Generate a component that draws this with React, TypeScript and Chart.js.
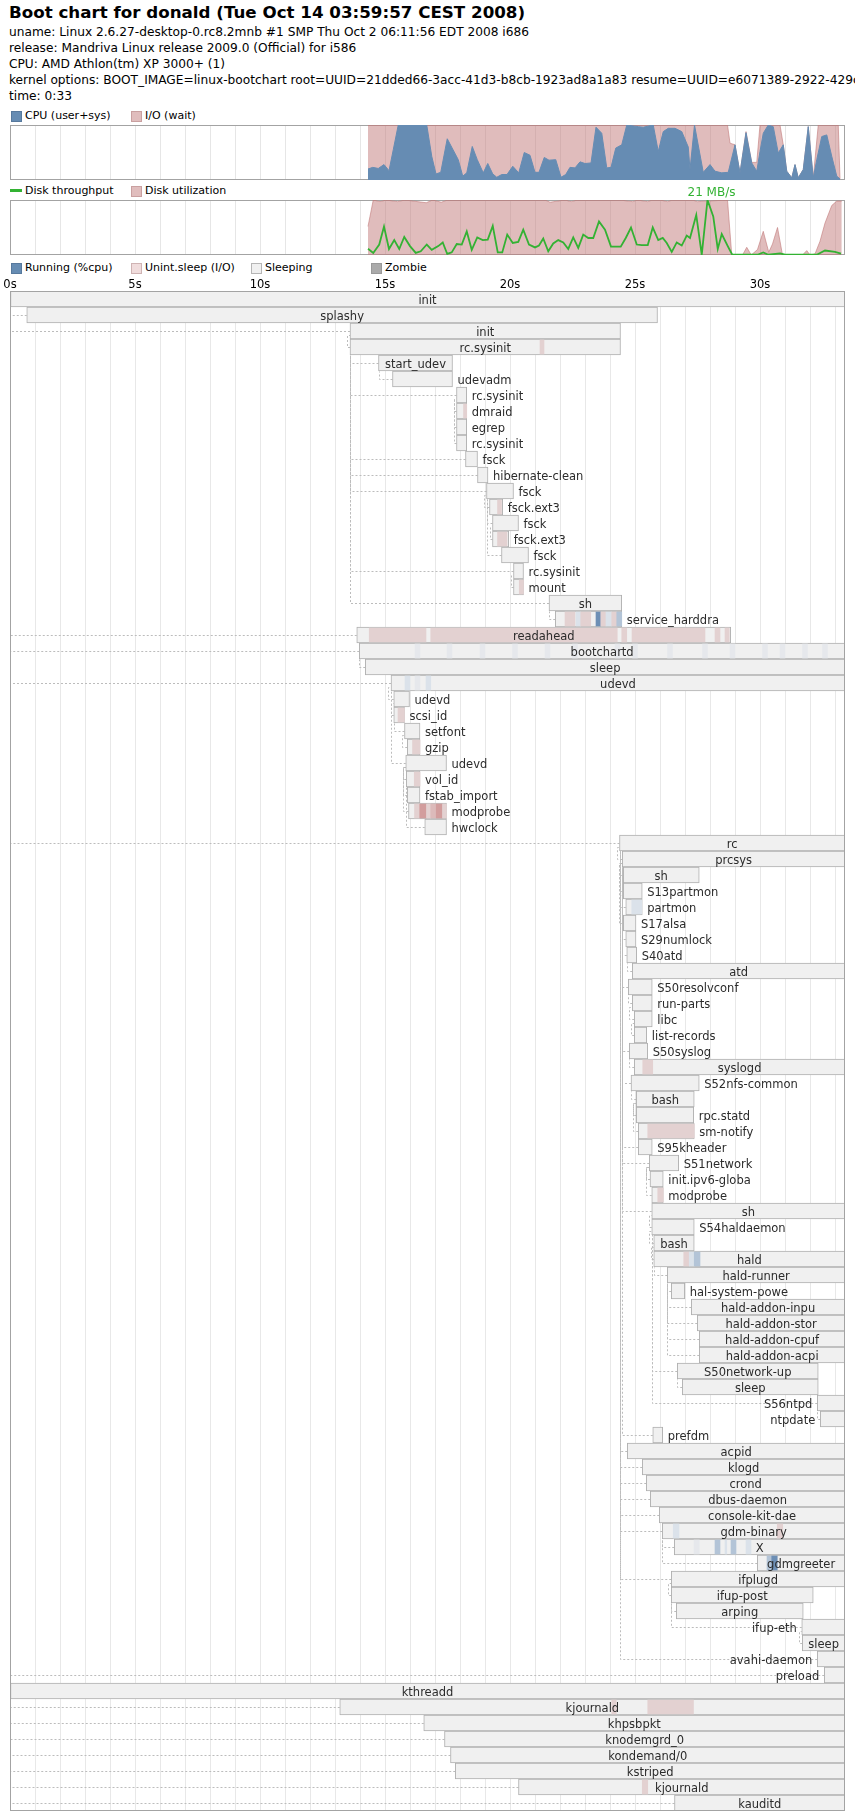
import React, { useEffect, useRef } from 'react';
import { Chart, registerables } from 'chart.js';

Chart.register(...registerables);

const FONT = '"DejaVu Sans", "Liberation Sans", sans-serif';

// ---------------- header ----------------
const chartTitle = 'Boot chart for donald (Tue Oct 14 03:59:57 CEST 2008)';
const headerLines = [
  'uname: Linux 2.6.27-desktop-0.rc8.2mnb #1 SMP Thu Oct 2 06:11:56 EDT 2008 i686',
  'release: Mandriva Linux release 2009.0 (Official) for i586',
  'CPU: AMD Athlon(tm) XP 3000+ (1)',
  'kernel options: BOOT_IMAGE=linux-bootchart root=UUID=21dded66-3acc-41d3-b8cb-1923ad8a1a83 resume=UUID=e6071389-2922-429c',
  'time: 0:33',
];

// ---------------- time axis (seconds) ----------------
const timeEnd = 33.4;
const timeTicks = [0, 5, 10, 15, 20, 25, 30];

// ---------------- CPU (%) ----------------
const cpuTimes = [14.32, 14.51, 14.73, 14.96, 15.16, 15.33, 15.53, 16.67, 16.87, 17.04, 17.23, 17.49, 17.93, 18.11, 18.27, 18.49, 18.69, 18.93, 19.11, 19.31, 19.47, 19.67, 19.88, 20.11, 20.35, 20.57, 20.8, 21.0, 21.16, 21.37, 21.56, 21.83, 22.04, 22.23, 22.4, 22.6, 22.8, 23.0, 23.24, 23.44, 23.67, 23.87, 24.04, 24.23, 24.47, 24.67, 25.13, 25.33, 25.73, 25.93, 26.13, 26.33, 26.6, 26.87, 27.13, 27.2, 27.38, 27.73, 28.0, 28.2, 28.47, 28.73, 29.0, 29.2, 29.44, 29.67, 29.87, 30.0, 30.13, 30.33, 30.53, 30.73, 30.93, 31.07, 31.27, 31.4, 31.53, 31.73, 31.93, 32.13, 32.27, 32.47, 32.67, 32.87, 33.07, 33.2];
const cpuBusy = [20, 23, 21, 28, 17, 55, 100, 100, 43, 11, 14, 75, 37, 7, 13, 61, 37, 13, 30, 11, 5, 10, 10, 25, 13, 50, 45, 14, 14, 41, 36, 37, 5, 10, 23, 22, 33, 30, 31, 96, 85, 22, 23, 58, 64, 100, 97, 96, 100, 52, 88, 94, 94, 88, 60, 19, 100, 14, 28, 16, 13, 14, 64, 13, 86, 31, 16, 52, 85, 100, 97, 49, 64, 16, 4, 28, 4, 19, 97, 4, 37, 79, 82, 43, 7, 2];
// CPU + I/O wait (upper edge of the I/O area)
const ioTimes = [14.32, 28.7, 28.8, 29.0, 29.2, 29.44, 29.67, 29.87, 30.0, 30.8, 30.93, 31.07, 31.27, 31.4, 31.53, 31.73, 31.93, 32.13, 32.33, 33.13, 33.2];
const cpuPlusIoWait = [100, 100, 67, 64, 13, 88, 32, 32, 100, 100, 64, 16, 4, 28, 4, 19, 97, 4, 100, 100, 2];

// ---------------- Disk ----------------
const utilTimes = [14.32, 14.53, 14.8, 15.05, 15.5, 15.8, 16.65, 16.9, 17.25, 17.5, 21.4, 21.6, 22.2, 22.45, 22.7, 24.4, 24.9, 25.1, 25.5, 25.7, 26.0, 26.3, 26.5, 27.3, 27.5, 28.7, 28.87, 29.3, 29.47, 29.65, 29.9, 30.13, 30.35, 30.5, 30.7, 30.9, 31.7, 31.87, 32.0, 32.2, 32.4, 32.6, 32.87, 33.07, 33.27];
const diskUtil = [52, 100, 97, 100, 97, 100, 95, 100, 96, 100, 100, 96, 100, 97, 100, 100, 97, 100, 97, 100, 100, 97, 100, 100, 97, 100, 0, 0, 14, 0, 10, 43, 5, 20, 50, 0, 0, 8, 0, 2, 25, 58, 90, 98, 98];
const tputTimes = [14.32, 14.53, 14.77, 14.96, 15.16, 15.37, 15.57, 15.77, 16.0, 16.23, 16.43, 16.67, 16.87, 17.13, 17.31, 17.49, 17.67, 17.87, 18.07, 18.27, 18.47, 18.69, 18.91, 19.11, 19.31, 19.51, 19.69, 19.89, 20.11, 20.33, 20.53, 20.76, 21.0, 21.16, 21.33, 21.53, 21.73, 21.93, 22.13, 22.33, 22.53, 22.73, 22.93, 23.13, 23.33, 23.56, 23.8, 24.04, 24.23, 24.43, 24.63, 24.84, 25.07, 25.27, 25.51, 25.71, 25.93, 26.11, 26.27, 26.47, 26.67, 26.87, 27.07, 27.2, 27.45, 27.67, 27.9, 28.13, 28.31, 28.47, 28.71, 28.89, 29.5, 29.9, 30.13, 30.33, 30.8, 31.0, 32.27, 32.6, 33.0, 33.24];
const diskTput = [2.4, 0.8, 4.0, 10.9, 2.3, 5.7, 2.3, 6.9, 3.4, 0.8, 1.4, 4.0, 2.0, 3.4, 4.8, 0.4, 1.0, 4.2, 4.0, 9.0, 2.0, 6.7, 5.7, 5.9, 11.1, 1.0, 1.0, 7.8, 4.6, 5.0, 9.7, 4.0, 2.9, 3.6, 6.3, 1.4, 4.4, 5.7, 4.8, 2.3, 6.7, 2.7, 7.8, 6.5, 6.5, 12.8, 9.7, 3.2, 3.2, 3.2, 6.5, 10.5, 4.0, 3.8, 3.8, 10.5, 5.7, 6.5, 4.6, 1.2, 4.8, 3.6, 7.4, 6.5, 15.3, 0.1, 21.0, 14.7, 2.3, 8.0, 3.4, 0.1, 0.1, 0.1, 1.0, 0.1, 0.6, 0.1, 0.1, 1.7, 1.2, 0.5];

// ---------------- Processes ----------------
const procNames = ['init', 'splashy', 'init', 'rc.sysinit', 'start_udev', 'udevadm', 'rc.sysinit', 'dmraid', 'egrep', 'rc.sysinit', 'fsck', 'hibernate-clean', 'fsck', 'fsck.ext3', 'fsck', 'fsck.ext3', 'fsck', 'rc.sysinit', 'mount', 'sh', 'service_harddra', 'readahead', 'bootchartd', 'sleep', 'udevd', 'udevd', 'scsi_id', 'setfont', 'gzip', 'udevd', 'vol_id', 'fstab_import', 'modprobe', 'hwclock', 'rc', 'prcsys', 'sh', 'S13partmon', 'partmon', 'S17alsa', 'S29numlock', 'S40atd', 'atd', 'S50resolvconf', 'run-parts', 'libc', 'list-records', 'S50syslog', 'syslogd', 'S52nfs-common', 'bash', 'rpc.statd', 'sm-notify', 'S95kheader', 'S51network', 'init.ipv6-globa', 'modprobe', 'sh', 'S54haldaemon', 'bash', 'hald', 'hald-runner', 'hal-system-powe', 'hald-addon-inpu', 'hald-addon-stor', 'hald-addon-cpuf', 'hald-addon-acpi', 'S50network-up', 'sleep', 'S56ntpd', 'ntpdate', 'prefdm', 'acpid', 'klogd', 'crond', 'dbus-daemon', 'console-kit-dae', 'gdm-binary', 'X', 'gdmgreeter', 'ifplugd', 'ifup-post', 'arping', 'ifup-eth', 'sleep', 'avahi-daemon', 'preload', 'kthreadd', 'kjournald', 'khpsbpkt', 'knodemgrd_0', 'kondemand/0', 'kstriped', 'kjournald', 'kauditd'];
const procStart = [0, 0.67, 13.6, 13.6, 14.74, 15.3, 17.86, 17.86, 17.86, 17.86,
  18.22, 18.7, 19.06, 19.18, 19.3, 19.3, 19.66, 20.14, 20.14, 21.56,
  21.81, 13.87, 13.97, 14.21, 15.24, 15.35, 15.35, 15.78, 15.89, 15.83,
  15.85, 15.89, 15.94, 16.59, 24.38, 24.49, 24.53, 24.53, 24.63, 24.53,
  24.63, 24.67, 24.89, 24.73, 24.89, 24.97, 24.97, 24.77, 24.97, 24.84,
  25.05, 25.05, 25.13, 25.13, 25.57, 25.6, 25.67, 25.67, 25.67, 25.75,
  25.75, 26.29, 26.45, 27.25, 27.49, 27.57, 27.57, 26.69, 26.89, 32.29,
  32.41, 25.71, 24.69, 25.29, 25.45, 25.61, 25.97, 26.09, 26.57, 29.89,
  26.45, 26.45, 26.65, 31.67, 31.69, 32.29, 32.57, 0, 13.19, 16.55,
  17.38, 17.62, 17.81, 20.34, 26.58];
const procEnd = [33.4, 25.9, 24.42, 24.42, 17.7, 17.7, 18.27, 18.27, 18.27, 18.27,
  18.7, 19.12, 20.14, 19.71, 20.34, 19.95, 20.74, 20.54, 20.54, 24.47,
  24.47, 28.83, 33.4, 33.4, 33.4, 15.98, 15.78, 16.4, 16.4, 17.46,
  16.4, 16.4, 17.46, 17.46, 33.4, 33.4, 27.57, 25.29, 25.29, 25.04,
  25.04, 25.07, 33.4, 25.69, 25.69, 25.69, 25.47, 25.51, 33.4, 27.57,
  27.37, 27.35, 27.37, 25.69, 26.75, 26.13, 26.13, 33.4, 27.37, 27.37,
  33.4, 33.4, 26.99, 33.4, 33.4, 33.4, 33.4, 32.33, 32.33, 33.4,
  33.4, 26.11, 33.4, 33.4, 33.4, 33.4, 33.4, 33.4, 33.4, 33.4,
  33.4, 32.13, 31.73, 33.4, 33.4, 33.4, 33.4, 33.4, 33.4, 33.4,
  33.4, 33.4, 33.4, 33.4, 33.4];
const procParent = [-1, 0, 0, 2, 3, 4, 3, 6, 6, 6,
  3, 3, 3, 12, 12, 14, 12, 3, 17, 3,
  19, 0, 0, 22, 0, 24, 25, 25, 27, 24,
  29, 29, 29, 29, 0, 34, 35, 35, 37, 35,
  35, 35, 41, 35, 43, 44, 45, 35, 47, 35,
  49, 50, 50, 35, 35, 54, 54, 35, 57, 58,
  59, 60, 61, 61, 61, 61, 61, 57, 67, 57,
  69, 35, 34, 34, 34, 34, 34, 34, 77, 77,
  34, 80, 81, 80, 83, 34, 0, -1, 87, 87,
  87, 87, 87, 87, 87];
// [row, start, end, state]
const procStates: [number, number, number, string][] = [
  [3, 21.2, 21.36, 'io'],
  [7, 18.14, 18.27, 'io'],
  [13, 19.5, 19.66, 'io'],
  [15, 19.5, 19.88, 'io'],
  [18, 20.37, 20.54, 'io'],
  [20, 22.2, 22.6, 'io'], [20, 22.64, 22.83, 'cpu1'], [20, 22.83, 23.23, 'io'], [20, 23.44, 23.63, 'cpu3'],
  [20, 23.63, 23.84, 'io'], [20, 23.84, 24.07, 'cpu1'], [20, 24.07, 24.27, 'io'], [20, 24.27, 24.47, 'cpu2'],
  [21, 14.37, 16.64, 'io'], [21, 16.83, 24.29, 'io'], [21, 24.47, 24.67, 'io'], [21, 24.88, 27.8, 'io'],
  [21, 28.2, 28.4, 'io'], [21, 28.6, 28.77, 'io'],
  [22, 16.2, 16.4, 'cpu0'], [22, 17.48, 17.68, 'cpu0'], [22, 18.8, 19.0, 'cpu0'], [22, 20.1, 20.3, 'cpu0'],
  [22, 21.4, 21.6, 'cpu0'], [22, 22.5, 22.7, 'cpu0'], [22, 24.2, 24.4, 'cpu0'], [22, 24.9, 25.1, 'cpu0'],
  [22, 26.3, 26.5, 'cpu0'], [22, 27.7, 27.9, 'cpu0'], [22, 28.8, 29.0, 'cpu0'], [22, 30.1, 30.3, 'cpu0'],
  [22, 30.8, 31.0, 'cpu0'], [22, 31.7, 31.9, 'cpu0'], [22, 32.5, 32.7, 'cpu0'],
  [24, 15.8, 16.0, 'cpu1'], [24, 16.2, 16.4, 'cpu0'], [24, 16.64, 16.83, 'cpu1'],
  [26, 15.52, 15.78, 'io'],
  [28, 16.1, 16.4, 'io'],
  [30, 16.17, 16.4, 'io'],
  [32, 16.18, 16.39, 'io'], [32, 16.39, 16.66, 'io3'], [32, 16.66, 16.83, 'io'], [32, 16.83, 17.05, 'io2'],
  [32, 17.05, 17.3, 'io3'], [32, 17.3, 17.46, 'io'],
  [38, 24.87, 25.27, 'cpu1'],
  [48, 25.31, 25.71, 'io'],
  [52, 25.51, 27.37, 'io'],
  [56, 25.91, 26.13, 'io'],
  [60, 26.95, 27.17, 'io'], [60, 27.17, 27.37, 'cpu1'], [60, 27.37, 27.6, 'cpu2'],
  [77, 26.53, 26.76, 'cpu1'], [77, 30.69, 30.91, 'io'],
  [78, 27.36, 27.57, 'cpu0'], [78, 28.2, 28.4, 'cpu2'], [78, 28.6, 28.67, 'cpu1'], [78, 28.84, 29.04, 'cpu2'], [78, 29.44, 29.64, 'cpu1'],
  [79, 30.28, 30.47, 'cpu2'], [79, 30.47, 30.69, 'cpu3'],
  [88, 24.07, 24.25, 'io'], [88, 25.51, 27.34, 'io'],
  [93, 25.29, 25.51, 'io'],
];

// ---------------- styles ----------------
const CPU_COLOR = '#668cb3';
const IO_COLOR = 'rgba(194,122,122,0.5)';
const TPUT_COLOR = '#33b233';
const STATE_COLORS: Record<string, string> = {
  io: '#e3d1d1', io2: '#dcbaba', io3: '#d29d9d',
  cpu0: '#e6e8ec', cpu1: '#dbe2ea', cpu2: '#b3c4d7', cpu3: '#6d8fb5',
};
const rowKeys = procNames.map((_, i) => String(i));

const timeScale = (grid: string) => ({
  type: 'linear',
  min: 0,
  max: timeEnd,
  offset: false,
  ticks: { display: false, stepSize: 1, autoSkip: false, includeBounds: false },
  grid: { color: grid, drawTicks: false, lineWidth: 1, offset: false },
  border: { display: false },
});

const framePlugin = (after: boolean) => ({
  id: after ? 'frameAfter' : 'frameBefore',
  [after ? 'afterDatasetsDraw' : 'beforeDatasetsDraw'](chart: any) {
    const { ctx, chartArea: a } = chart;
    ctx.save();
    ctx.strokeStyle = '#a3a3a3';
    ctx.lineWidth = 1;
    ctx.strokeRect(Math.round(a.left) + 0.5, Math.round(a.top) + 0.5,
      Math.round(a.right - a.left) - 1, Math.round(a.bottom - a.top) - 1);
    ctx.restore();
  },
});

const peakLabelPlugin = {
  id: 'peakLabel',
  afterDraw(chart: any) {
    const { ctx, chartArea, scales } = chart;
    let mi = 0;
    diskTput.forEach((v, i) => { if (v > diskTput[mi]) mi = i; });
    const px = scales.x.getPixelForValue(tputTimes[mi]);
    ctx.save();
    ctx.font = `12px ${FONT}`;
    ctx.fillStyle = TPUT_COLOR;
    ctx.textAlign = 'center';
    ctx.textBaseline = 'alphabetic';
    ctx.fillText(`${Math.round(diskTput[mi])} MB/s`, px + 4, chartArea.top - 4);
    ctx.restore();
  },
};

const timeLabelPlugin = {
  id: 'timeLabels',
  afterDraw(chart: any) {
    const { ctx, chartArea, scales } = chart;
    ctx.save();
    ctx.font = `11.5px ${FONT}`;
    ctx.fillStyle = '#000';
    ctx.textAlign = 'center';
    ctx.textBaseline = 'alphabetic';
    timeTicks.forEach((t) => ctx.fillText(`${t}s`, scales.x.getPixelForValue(t), chartArea.top - 3));
    ctx.restore();
  },
};

const rowPixel = (ys: any, i: number) => ys.getPixelForValue(i);

const connectorPlugin = {
  id: 'connectors',
  beforeDatasetsDraw(chart: any) {
    const { ctx, scales } = chart;
    const xs = scales.x, ys = scales.y;
    const rowH = Math.abs(rowPixel(ys, 1) - rowPixel(ys, 0));
    const r = (v: number) => Math.round(v) + 0.5;
    ctx.save();
    ctx.strokeStyle = '#bcbcbc';
    ctx.lineWidth = 1;
    ctx.setLineDash([2, 2]);
    procParent.forEach((p, i) => {
      if (p < 0) return;
      const x = xs.getPixelForValue(procStart[i]);
      const ymid = rowPixel(ys, i);
      const px = xs.getPixelForValue(procStart[p]);
      const ptop = rowPixel(ys, p) - rowH / 2;
      ctx.beginPath();
      if (Math.abs(px - x) < 3) {
        const yy = ptop + rowH * 0.75;
        ctx.moveTo(x, r(ymid));
        ctx.lineTo(r(px - 3), r(ymid));
        ctx.lineTo(r(px - 3), r(yy));
        ctx.lineTo(px, r(yy));
      } else {
        ctx.moveTo(x, r(ymid));
        ctx.lineTo(r(px), r(ymid));
        ctx.lineTo(r(px), r(ptop + rowH));
      }
      ctx.stroke();
    });
    ctx.restore();
  },
};

const procLabelPlugin = {
  id: 'procLabels',
  afterDatasetsDraw(chart: any) {
    const { ctx, chartArea, scales } = chart;
    const xs = scales.x, ys = scales.y;
    const rowH = Math.abs(rowPixel(ys, 1) - rowPixel(ys, 0));
    ctx.save();
    ctx.font = `11.5px ${FONT}`;
    ctx.fillStyle = '#2b2b2b';
    ctx.textAlign = 'left';
    ctx.textBaseline = 'alphabetic';
    procNames.forEach((name, i) => {
      const x0 = xs.getPixelForValue(procStart[i]);
      const x1 = xs.getPixelForValue(procEnd[i]);
      const w = x1 - x0;
      const top = rowPixel(ys, i) - rowH / 2;
      const lw = ctx.measureText(name).width;
      let lx = x0 + w / 2 - lw / 2;
      if (lw + 10 > w) lx = x1 + 5;
      if (lx + lw > chartArea.right) lx = x0 - lw - 5;
      ctx.fillText(name, lx, top + 12.5);
    });
    ctx.restore();
  },
};

const baseOptions = (padding: any) => ({
  animation: false,
  responsive: false,
  maintainAspectRatio: false,
  events: [],
  layout: { padding },
  plugins: { legend: { display: false }, tooltip: { enabled: false } },
});

function LegendBox({ x, y, color, border }: any) {
  return <div style={{ position: 'absolute', left: x, top: y, width: 9, height: 9, background: color, border: `1px solid ${border}` }} />;
}
function LegendText({ x, y, text }: any) {
  return <div style={{ position: 'absolute', left: x, top: y, fontSize: 11, lineHeight: '13px', whiteSpace: 'nowrap' }}>{text}</div>;
}

export default function App() {
  const cpuRef = useRef<HTMLCanvasElement>(null);
  const diskRef = useRef<HTMLCanvasElement>(null);
  const procRef = useRef<HTMLCanvasElement>(null);

  useEffect(() => {
    const charts: Chart[] = [];

    charts.push(new Chart(cpuRef.current as HTMLCanvasElement, {
      type: 'line',
      data: {
        datasets: [
          {
            label: 'CPU (user+sys)',
            data: cpuTimes.map((t, i) => ({ x: t, y: cpuBusy[i] })),
            backgroundColor: CPU_COLOR, borderColor: CPU_COLOR, borderWidth: 1,
            fill: 'origin', pointRadius: 0, tension: 0, order: 1,
          },
          {
            label: 'I/O (wait)',
            data: ioTimes.map((t, i) => ({ x: t, y: cpuPlusIoWait[i] })),
            backgroundColor: IO_COLOR, borderColor: 'rgba(194,122,122,0.6)', borderWidth: 1,
            fill: 'origin', pointRadius: 0, tension: 0, order: 2,
          },
        ],
      },
      options: {
        ...baseOptions({ left: 10, right: 10, top: 5, bottom: 5 }),
        scales: { x: timeScale('#e6e6e6'), y: { display: false, min: 0, max: 100 } },
      } as any,
      plugins: [framePlugin(false)],
    } as any));

    charts.push(new Chart(diskRef.current as HTMLCanvasElement, {
      type: 'line',
      data: {
        datasets: [
          {
            label: 'Disk throughput',
            data: tputTimes.map((t, i) => ({ x: t, y: diskTput[i] })),
            borderColor: TPUT_COLOR, borderWidth: 1.8, backgroundColor: TPUT_COLOR,
            fill: false, pointRadius: 0, tension: 0, yAxisID: 'y2', order: 1,
          },
          {
            label: 'Disk utilization',
            data: utilTimes.map((t, i) => ({ x: t, y: diskUtil[i] })),
            backgroundColor: IO_COLOR, borderColor: 'rgba(194,122,122,0.6)', borderWidth: 1,
            fill: 'origin', pointRadius: 0, tension: 0, yAxisID: 'y', order: 2,
          },
        ],
      },
      options: {
        ...baseOptions({ left: 10, right: 10, top: 15, bottom: 5 }),
        scales: {
          x: timeScale('#e6e6e6'),
          y: { display: false, min: 0, max: 100 },
          y2: { display: false, min: 0, max: Math.max(...diskTput) },
        },
      } as any,
      plugins: [framePlugin(false), peakLabelPlugin],
    } as any));

    charts.push(new Chart(procRef.current as HTMLCanvasElement, {
      type: 'bar',
      data: {
        labels: rowKeys,
        datasets: [
          {
            label: 'states',
            data: procStates.map((s) => ({ x: [s[1], s[2]], y: rowKeys[s[0]] })),
            backgroundColor: procStates.map((s) => STATE_COLORS[s[3]]),
            borderWidth: 0, barThickness: 14, grouped: false, order: 1,
          },
          {
            label: 'processes',
            data: procNames.map((_, i) => ({ x: [procStart[i], procEnd[i]], y: rowKeys[i] })),
            backgroundColor: '#f0f0f0', borderColor: '#b0b0b0', borderWidth: 1,
            borderSkipped: false, barThickness: 16, grouped: false, order: 2,
          },
        ],
      },
      options: {
        ...baseOptions({ left: 10, right: 10, top: 15, bottom: 9 }),
        indexAxis: 'y',
        scales: {
          x: timeScale('#e8e8e8'),
          y: { type: 'category', display: false, offset: true },
        },
      } as any,
      plugins: [connectorPlugin, procLabelPlugin, framePlugin(true), timeLabelPlugin],
    } as any));

    return () => charts.forEach((c) => c.destroy());
  }, []);

  const lx = (k: number) => 11 + 120 * k;

  return (
    <div style={{ position: 'absolute', left: 0, top: 0, width: 855, height: 1820, background: '#fff', overflow: 'hidden', fontFamily: FONT, color: '#000' }}>
      <div style={{ position: 'absolute', left: 9, top: 2, fontSize: 16.7, fontWeight: 'bold', lineHeight: '20px', whiteSpace: 'nowrap' }}>{chartTitle}</div>
      {headerLines.map((l, i) => (
        <div key={i} style={{ position: 'absolute', left: 9, top: 24.5 + i * 16, fontSize: 12.2, lineHeight: '15.5px', whiteSpace: 'nowrap' }}>{l}</div>
      ))}

      <LegendBox x={lx(0)} y={111} color={CPU_COLOR} border="#57799d" />
      <LegendText x={lx(0) + 14} y={109} text="CPU (user+sys)" />
      <LegendBox x={lx(1)} y={111} color="#e0bdbd" border="#c9a0a0" />
      <LegendText x={lx(1) + 14} y={109} text="I/O (wait)" />

      <div style={{ position: 'absolute', left: 10, top: 189, width: 12, height: 3, background: TPUT_COLOR }} />
      <LegendText x={lx(0) + 14} y={184} text="Disk throughput" />
      <LegendBox x={lx(1)} y={186} color="#e0bdbd" border="#c9a0a0" />
      <LegendText x={lx(1) + 14} y={184} text="Disk utilization" />

      <LegendBox x={lx(0)} y={263} color={CPU_COLOR} border="#57799d" />
      <LegendText x={lx(0) + 14} y={261} text="Running (%cpu)" />
      <LegendBox x={lx(1)} y={263} color="#f0dcdc" border="#cfb3b3" />
      <LegendText x={lx(1) + 14} y={261} text="Unint.sleep (I/O)" />
      <LegendBox x={lx(2)} y={263} color="#f0f0f0" border="#b5b5b5" />
      <LegendText x={lx(2) + 14} y={261} text="Sleeping" />
      <LegendBox x={lx(3)} y={263} color="#aaaaaa" border="#999999" />
      <LegendText x={lx(3) + 14} y={261} text="Zombie" />

      <canvas ref={cpuRef} width={855} height={65} style={{ position: 'absolute', left: 0, top: 120, width: 855, height: 65 }} />
      <canvas ref={diskRef} width={855} height={75} style={{ position: 'absolute', left: 0, top: 185, width: 855, height: 75 }} />
      <canvas ref={procRef} width={855} height={1544} style={{ position: 'absolute', left: 0, top: 276, width: 855, height: 1544 }} />
    </div>
  );
}
